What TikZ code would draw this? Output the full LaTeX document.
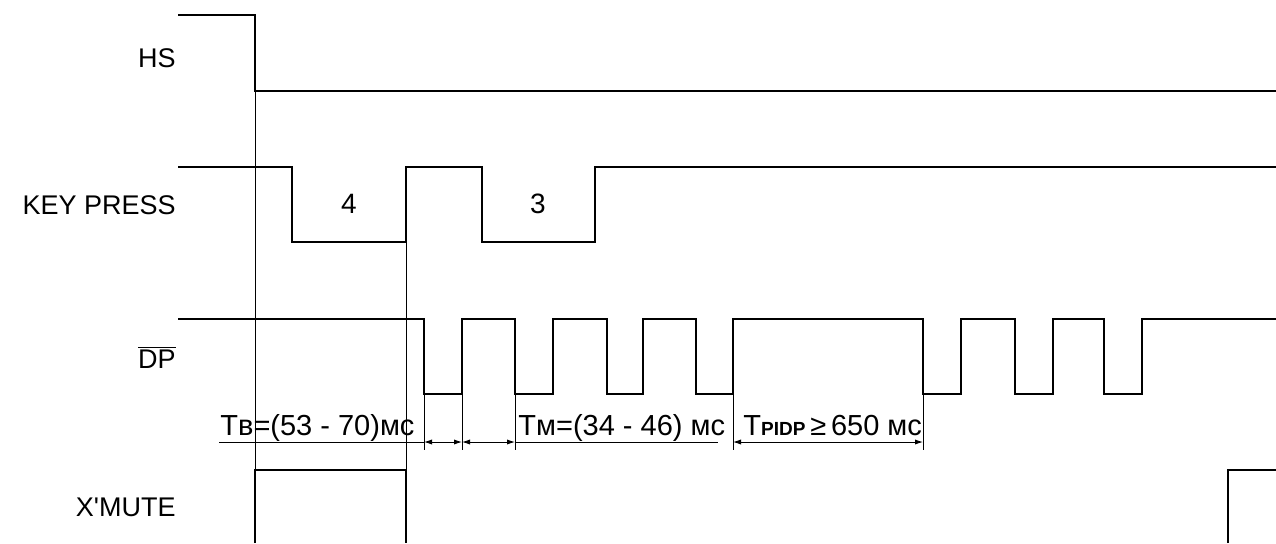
\documentclass[tikz,border=0pt]{standalone}
\usepackage{fontspec}
\setmainfont{Liberation Sans}
\usetikzlibrary{arrows.meta}

\begin{document}
\begin{tikzpicture}[x=0.5pt, y=-0.5pt,
    signal/.style ={draw=black, line width=1.3pt, line join=miter},
    guide/.style ={draw=black, line width=0.45pt},
    dimline/.style ={draw=black, line width=0.45pt,
      {Latex[length=4pt,width=2.6pt]}-{Latex[length=4pt,width=2.6pt]}},
    siglabel/.style ={anchor=east, inner sep=0pt,
      font=\fontsize{13.5}{16}\selectfont},
    digit/.style ={inner sep=0pt, font=\fontsize{14}{16}\selectfont},
    timing/.style ={anchor=base west, inner sep=0pt,
      font=\fontsize{14.5}{16}\selectfont}]

    \useasboundingbox (0,0) rectangle (1276,543);

    % signal names
    \node [siglabel] (hsName) at (176,58) {HS};
    \node [siglabel] (keyName) at (176,205) {KEY PRESS};
    \node [siglabel] (dpName) at (176,357) {$\overline{\mbox{DP}}$};
    \node [siglabel] (muteName) at (176,507) {X\textquotesingle MUTE};

    % key digits
    \node [digit] (keyFour) at (349,204) {4};
    \node [digit] (keyThree) at (538,204) {3};

    % time marks
    \coordinate (tHs) at (255,0);
    \coordinate (tKey) at (406,0);

    % waveforms
    \draw [signal] (178,15) -- (255,15) -- (255,91) -- (1276,91);
    \draw [signal] (178,167) -- (292,167) -- (292,242) -- (406,242)
        -- (406,167) -- (482,167) -- (482,242) -- (595,242)
        -- (595,167) -- (1276,167);
    \draw [signal] (178,319) -- (424,319)
        \foreach \down/\up in {424/462, 515/553, 607/643, 696/733,
                               923/961, 1015/1053, 1104/1142} {
          -- (\down,319) -- (\down,394) -- (\up,394) -- (\up,319)
        } -- (1276,319);
    \draw [signal] (255,543) -- (255,470) -- (406,470) -- (406,543);
    \draw [signal] (1228,543) -- (1228,470) -- (1276,470);

    % guide lines
    \draw [guide] (tHs |- 0,91) -- (tHs |- 0,470);
    \draw [guide] (tKey |- 0,242) -- (tKey |- 0,470);
    \foreach \x in {424, 462, 515, 733, 923}
      \draw [guide] (\x,394) -- (\x,450);

    % dimensions
    \coordinate (dimA) at (424,442);
    \coordinate (dimB) at (462,442);
    \coordinate (dimC) at (515,442);
    \coordinate (dimD) at (733,442);
    \coordinate (dimE) at (923,442);
    \draw [guide] (219,442) -- (dimA);
    \draw [dimline] (dimA) -- (dimB);
    \draw [dimline] (dimB) -- (dimC);
    \draw [guide] (dimC) -- (718,442);
    \draw [dimline] (dimD) -- (dimE);

    \node [timing] (tB) at (220,435) {Tв=(53 - 70)мс};
    \node [timing] (tM) at (518,435) {Tм=(34 - 46) мс};
    \node [timing] (tPidp) at (743,435)
        {T{\fontsize{9.5}{10}\selectfont\bfseries PIDP}\,≥\,650 мс};

\end{tikzpicture}
\end{document}
